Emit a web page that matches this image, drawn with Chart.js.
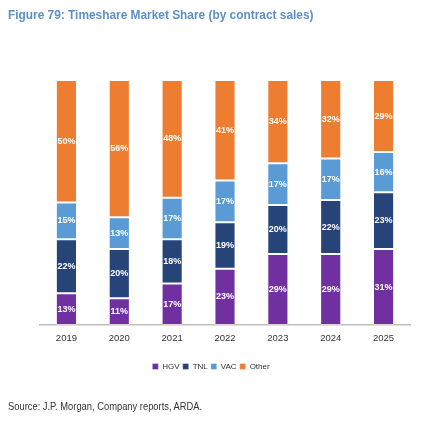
<!DOCTYPE html>
<html>
<head>
<meta charset="utf-8">
<script src="https://cdn.jsdelivr.net/npm/chart.js@4"></script>
<style>
  html, body { margin: 0; padding: 0; background: #ffffff; }
  body { width: 425px; height: 427px; position: relative; overflow: hidden; font-family: "Liberation Sans", Arial, sans-serif; }
  #title { position: absolute; left: 8px; top: 7px; font-size: 13.5px; font-weight: bold; color: #5b8fc7; white-space: nowrap; transform: scaleX(0.88); transform-origin: left top; }
  #source { position: absolute; left: 8px; top: 400px; font-size: 11px; color: #333333; white-space: nowrap; transform: scaleX(0.85); transform-origin: left top; }
  #wrap { position: absolute; left: 0; top: 0; width: 425px; height: 427px; }
</style>
</head>
<body>
<div id="wrap"><canvas id="shareChart"></canvas></div>
<div id="title">Figure 79: Timeshare Market Share (by contract sales)</div>
<div id="source">Source: J.P. Morgan, Company reports, ARDA.</div>
<script>
const FONT = "'Liberation Sans', Arial, sans-serif";

const years = ["2019", "2020", "2021", "2022", "2023", "2024", "2025"];
const hgv = [13, 11, 17, 23, 29, 29, 31.0];
const tnl = [22, 20, 18, 19, 20, 22, 23.2];
const vac = [15, 13, 17, 17, 17, 17, 16.4];
const other = [50, 56, 48, 41, 34, 32, 29.4];

const COLORS = {
  hgv: "#7030a0",
  tnl: "#264478",
  vac: "#5b9bd5",
  other: "#ed7d31"
};

// white % labels in the middle of each segment
const segmentLabels = {
  id: "segmentLabels",
  afterDatasetsDraw: function (chart) {
    const ctx = chart.ctx;
    ctx.save();
    ctx.font = "bold 9px " + FONT;
    ctx.fillStyle = "#ffffff";
    ctx.textAlign = "center";
    ctx.textBaseline = "middle";
    chart.data.datasets.forEach(function (dataset, i) {
      const meta = chart.getDatasetMeta(i);
      meta.data.forEach(function (bar, j) {
        const mid = (bar.y + bar.base) / 2;
        ctx.fillText(Math.round(dataset.data[j]) + "%", bar.x, mid);
      });
    });
    ctx.restore();
  }
};

function makeDataset(label, values, color) {
  return {
    label: label,
    data: values,
    backgroundColor: color,
    borderColor: "rgba(255,255,255,0.35)",
    borderWidth: 1,
    borderSkipped: false,
    barPercentage: 0.8,
    categoryPercentage: 0.5
  };
}

new Chart(document.getElementById("shareChart"), {
  type: "bar",
  data: {
    labels: years,
    datasets: [
      makeDataset("HGV", hgv, COLORS.hgv),
      makeDataset("TNL", tnl, COLORS.tnl),
      makeDataset("VAC", vac, COLORS.vac),
      makeDataset("Other", other, COLORS.other)
    ]
  },
  options: {
    responsive: true,
    maintainAspectRatio: false,
    animation: false,
    events: [],
    layout: {
      padding: { left: 12, right: 15, top: 80, bottom: 46.5 }
    },
    plugins: {
      legend: {
        position: "bottom",
        labels: {
          boxWidth: 6,
          boxHeight: 6,
          padding: 3,
          color: "#333333",
          font: { size: 8, family: FONT }
        }
      },
      tooltip: { enabled: false }
    },
    scales: {
      x: {
        stacked: true,
        grid: { display: false, drawTicks: false },
        border: { color: "#bfbfbf", width: 1.5 },
        ticks: {
          color: "#333333",
          padding: 8,
          font: { size: 9.5, family: FONT }
        },
        afterFit: function (scale) {
          scale.height += 7;
        }
      },
      y: {
        stacked: true,
        min: 0,
        max: 100,
        grid: { display: false, drawTicks: false },
        border: { display: false },
        ticks: { display: false },
        afterFit: function (scale) {
          scale.width = 28;
        }
      }
    }
  },
  plugins: [segmentLabels]
});
</script>
</body>
</html>
